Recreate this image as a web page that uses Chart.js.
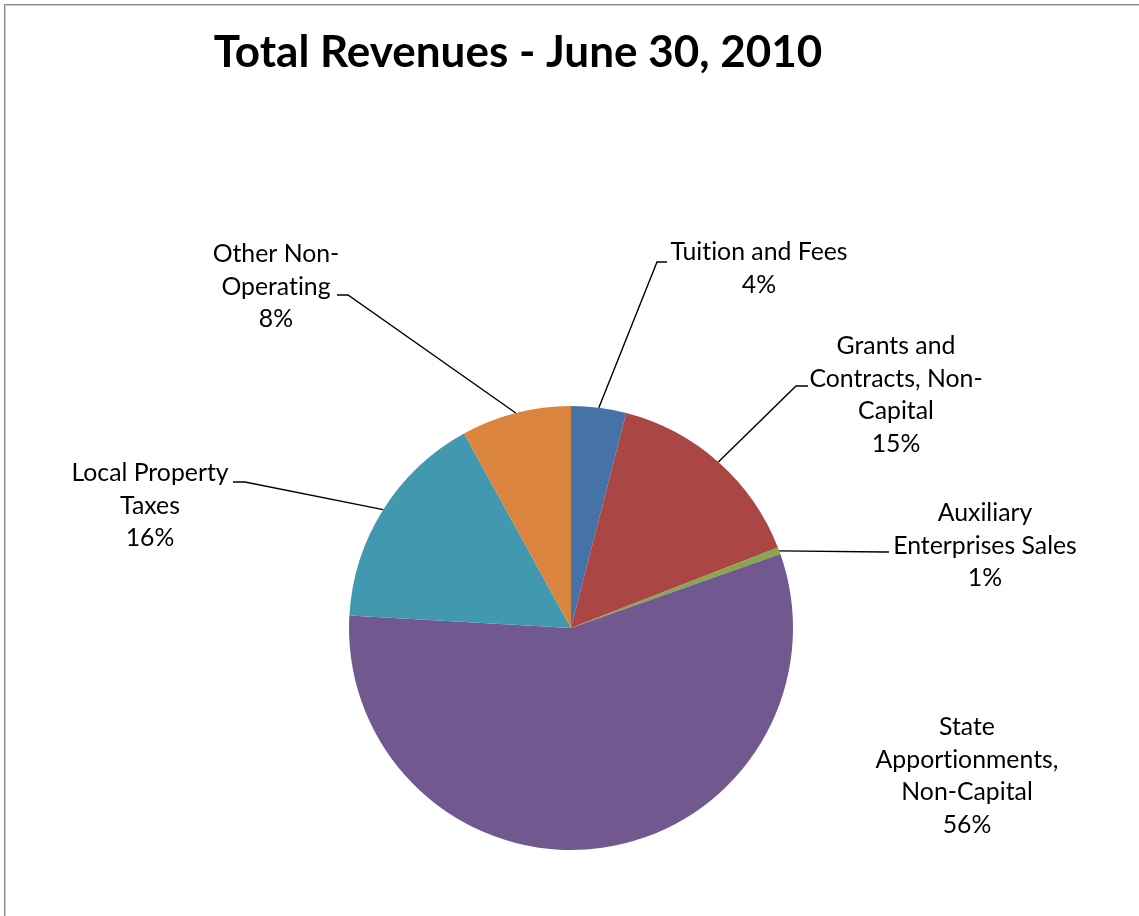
<!DOCTYPE html>
<html>
<head>
<meta charset="utf-8">
<script src="https://cdn.jsdelivr.net/npm/chart.js@4/dist/chart.umd.min.js"></script>
<style>
  html, body { margin: 0; padding: 0; background: #ffffff; }
  #wrap { width: 1139px; height: 916px; position: relative; }
  canvas { font-variant-ligatures: none; }
</style>
</head>
<body>
<div id="wrap"><canvas id="c" width="1139" height="916"></canvas></div>
<script>
// ---- data ----
const chartTitle = "Total Revenues - June 30, 2010";
const categories = [
  "Tuition and Fees",
  "Grants and Contracts, Non-Capital",
  "Auxiliary Enterprises Sales",
  "State Apportionments, Non-Capital",
  "Local Property Taxes",
  "Other Non-Operating"
];
const values = [4.0, 15.1, 0.5, 56.3, 16.1, 8.0];
const labelLines = [
  ["Tuition and Fees"],
  ["Grants and", "Contracts, Non-", "Capital"],
  ["Auxiliary", "Enterprises Sales"],
  ["State", "Apportionments,", "Non-Capital"],
  ["Local Property", "Taxes"],
  ["Other Non-", "Operating"]
];
const colors = ["#4572A7", "#AA4643", "#89A54E", "#71588F", "#4198AF", "#DB843D"];

// ---- layout of data labels (text centre x, first line y, leader elbow / end) ----
const labelLayout = [
  { cx: 759, y0: 252, elbow: [657, 262], end: [667, 262] },
  { cx: 896, y0: 346, elbow: [796, 386], end: [808, 386] },
  { cx: 985, y0: 513, elbow: [885, 552], end: [889, 552] },
  { cx: 967, y0: 727, elbow: null, end: null },
  { cx: 150, y0: 473, elbow: [245, 482], end: [233, 482] },
  { cx: 276, y0: 254, elbow: [348, 295], end: [337, 295] }
];
const lineHeight = 32.7;
const labelFont = "24.8px Lato";
const titleFont = "bold 44px Lato";

const total = values.reduce((a, b) => a + b, 0);

function noLig(ctx) {
  try { ctx.textRendering = 'optimizeSpeed'; } catch (e) {}
  try { ctx.fontVariantCaps = 'normal'; } catch (e) {}
}

const decor = {
  id: 'decor',
  beforeDraw(chart) {
    const ctx = chart.ctx;
    ctx.save();
    ctx.fillStyle = '#ffffff';
    ctx.fillRect(0, 0, chart.width, chart.height);
    ctx.strokeStyle = '#8a8a8a';
    ctx.lineWidth = 1;
    ctx.beginPath();
    ctx.moveTo(4.5, chart.height + 2); ctx.lineTo(4.5, 4.5); ctx.lineTo(chart.width + 2, 4.5);
    ctx.stroke();
    ctx.strokeStyle = '#c8c8c8';
    ctx.beginPath();
    ctx.moveTo(5.5, chart.height + 2); ctx.lineTo(5.5, 5.5); ctx.lineTo(chart.width + 2, 5.5);
    ctx.stroke();
    ctx.restore();
  },
  afterDraw(chart) {
    const ctx = chart.ctx;
    ctx.save();
    noLig(ctx);
    // title
    ctx.font = titleFont;
    ctx.fillStyle = '#000000';
    ctx.textAlign = 'center';
    ctx.textBaseline = 'middle';
    ctx.fillText(chartTitle, 518, 53);

    const meta = chart.getDatasetMeta(0);
    meta.data.forEach((arc, i) => {
      const L = labelLayout[i];
      // leader line
      if (L.elbow) {
        const mid = (arc.startAngle + arc.endAngle) / 2;
        const sx = arc.x + Math.cos(mid) * arc.outerRadius;
        const sy = arc.y + Math.sin(mid) * arc.outerRadius;
        ctx.strokeStyle = '#000000';
        ctx.lineWidth = 1.4;
        ctx.beginPath();
        ctx.moveTo(sx, sy);
        ctx.lineTo(L.elbow[0], L.elbow[1]);
        ctx.lineTo(L.end[0], L.end[1]);
        ctx.stroke();
      }
      // text
      ctx.font = labelFont;
      ctx.fillStyle = '#000000';
      const pct = Math.round(values[i] / total * 100) + '%';
      const lines = labelLines[i].concat([pct]);
      lines.forEach((t, k) => ctx.fillText(t, L.cx, L.y0 + k * lineHeight));
    });
    ctx.restore();
  }
};

new Chart(document.getElementById('c'), {
  type: 'pie',
  data: {
    labels: categories,
    datasets: [{
      data: values,
      backgroundColor: colors,
      borderWidth: 0
    }]
  },
  options: {
    responsive: false,
    animation: false,
    layout: { padding: { left: 349, right: 346, top: 406, bottom: 66 } },
    plugins: {
      legend: { display: false },
      title: { display: false },
      tooltip: { enabled: false }
    }
  },
  plugins: [decor]
});
</script>
</body>
</html>
